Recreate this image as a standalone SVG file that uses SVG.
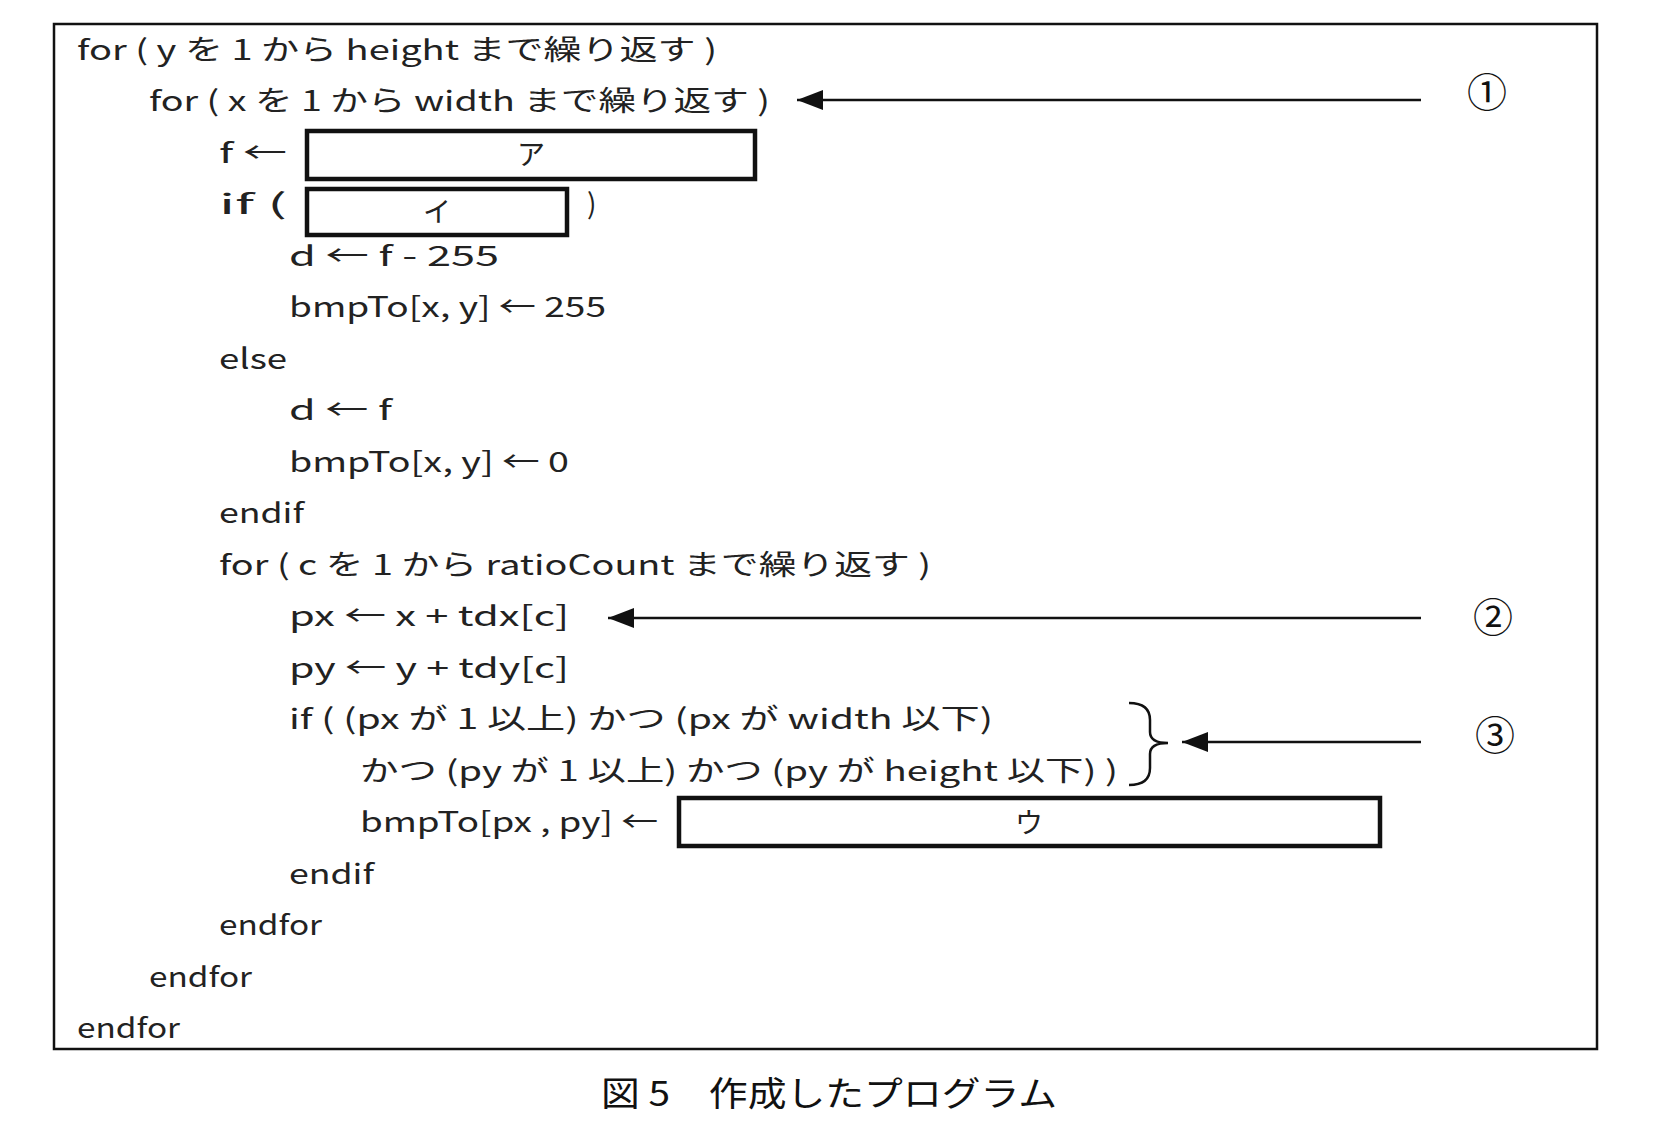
<svg xmlns="http://www.w3.org/2000/svg" width="1670" height="1138" viewBox="0 0 1670 1138">
<defs>
<style>
.t{font-family:"Noto Sans CJK JP","DejaVu Sans Mono",monospace;font-size:28px;font-weight:400;fill:#222;}
.c{font-family:"Liberation Serif","Noto Sans CJK JP",serif;font-size:40px;fill:#111;}
.cap{font-family:"Noto Sans CJK JP",sans-serif;font-size:34px;fill:#111;}
.ans{fill:#fff;stroke:#111;stroke-width:4.5;}
.ln{stroke:#111;stroke-width:2.5;fill:none;}
</style>
<marker id="ah" markerWidth="26" markerHeight="20" refX="26" refY="10" orient="auto" markerUnits="userSpaceOnUse" viewBox="0 0 26 20"><path d="M0,0 L26,10 L0,20 Z" fill="#111"/></marker>
</defs>
<rect width="1670" height="1138" fill="#fff"/>
<g id="frame"><rect x="54" y="24" width="1543" height="1025" fill="none" stroke="#111" stroke-width="2.5"/></g>
<g id="code">
<text class="t" x="77" y="60" textLength="640" lengthAdjust="spacingAndGlyphs">for ( y を 1 から height まで繰り返す )</text>
<text class="t" x="149" y="111" textLength="621" lengthAdjust="spacingAndGlyphs">for ( x を 1 から width まで繰り返す )</text>
<text class="t" x="219" y="163" textLength="68" lengthAdjust="spacingAndGlyphs">f ←</text>
<text class="t" x="219" y="214" textLength="68" lengthAdjust="spacingAndGlyphs">if (</text>
<text class="t" x="587" y="214">)</text>
<text class="t" x="289" y="266" textLength="210" lengthAdjust="spacingAndGlyphs">d ← f - 255</text>
<text class="t" x="289" y="317" textLength="317" lengthAdjust="spacingAndGlyphs">bmpTo[x, y] ← 255</text>
<text class="t" x="219" y="369" textLength="68" lengthAdjust="spacingAndGlyphs">else</text>
<text class="t" x="289" y="420" textLength="103" lengthAdjust="spacingAndGlyphs">d ← f</text>
<text class="t" x="289" y="472" textLength="280" lengthAdjust="spacingAndGlyphs">bmpTo[x, y] ← 0</text>
<text class="t" x="219" y="523" textLength="85" lengthAdjust="spacingAndGlyphs">endif</text>
<text class="t" x="219" y="575" textLength="712" lengthAdjust="spacingAndGlyphs">for ( c を 1 から ratioCount まで繰り返す )</text>
<text class="t" x="289" y="626" textLength="280" lengthAdjust="spacingAndGlyphs">px ← x + tdx[c]</text>
<text class="t" x="289" y="678" textLength="280" lengthAdjust="spacingAndGlyphs">py ← y + tdy[c]</text>
<text class="t" x="289" y="729" textLength="704" lengthAdjust="spacingAndGlyphs">if ( (px が 1 以上) かつ (px が width 以下)</text>
<text class="t" x="360" y="781" textLength="758" lengthAdjust="spacingAndGlyphs">かつ (py が 1 以上) かつ (py が height 以下) )</text>
<text class="t" x="360" y="832" textLength="298" lengthAdjust="spacingAndGlyphs">bmpTo[px , py] ←</text>
<text class="t" x="289" y="884" textLength="85" lengthAdjust="spacingAndGlyphs">endif</text>
<text class="t" x="219" y="935" textLength="103" lengthAdjust="spacingAndGlyphs">endfor</text>
<text class="t" x="149" y="987" textLength="103" lengthAdjust="spacingAndGlyphs">endfor</text>
<text class="t" x="77" y="1038" textLength="103" lengthAdjust="spacingAndGlyphs">endfor</text>
</g>
<g id="boxA"><rect class="ans" x="307" y="131" width="448" height="48"/><text class="t" x="531" y="165" text-anchor="middle">ア</text></g>
<g id="boxI"><rect class="ans" x="307" y="189" width="260" height="46"/><text class="t" x="437" y="222" text-anchor="middle">イ</text></g>
<g id="boxU"><rect class="ans" x="679" y="798" width="701" height="48"/><text class="t" x="1029" y="833" text-anchor="middle">ウ</text></g>
<g id="brace"><path class="ln" d="M1129,703 Q1150,703 1150,720 L1150,732 Q1150,743 1168,743 Q1150,743 1150,754 L1150,768 Q1150,785 1129,785"/></g>
<g id="connectors">
<line class="ln" x1="1421" y1="100" x2="797" y2="100" marker-end="url(#ah)"/>
<line class="ln" x1="1421" y1="618" x2="608" y2="618" marker-end="url(#ah)"/>
<line class="ln" x1="1421" y1="742" x2="1182" y2="742" marker-end="url(#ah)"/>
</g>
<g id="labels">
<text class="c" x="1487" y="107" text-anchor="middle">①</text>
<text class="c" x="1493" y="632" text-anchor="middle">②</text>
<text class="c" x="1495" y="750" text-anchor="middle">③</text>
</g>
<g id="caption"><text class="cap" x="601" y="1106" textLength="456" lengthAdjust="spacingAndGlyphs">図 5　作成したプログラム</text></g>
</svg>
